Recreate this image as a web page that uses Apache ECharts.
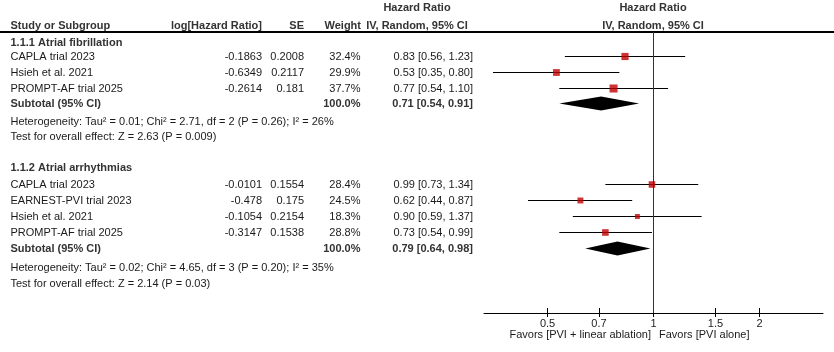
<!DOCTYPE html>
<html>
<head>
<meta charset="utf-8">
<style>
  html, body { margin: 0; padding: 0; background: #fff; }
  #chart { width: 834px; height: 352px; }
</style>
<script src="https://cdn.jsdelivr.net/npm/echarts@6/dist/echarts.min.js"></script>
</head>
<body>
<div id="chart"></div>
<script>
// 1.1.1 Atrial fibrillation
const afStudies = ['CAPLA trial 2023', 'Hsieh et al. 2021', 'PROMPT-AF trial 2025']
const afLogHR = [-0.1863, -0.6349, -0.2614]
const afSE = [0.2008, 0.2117, 0.181]
const afWeight = [32.4, 29.9, 37.7]
const afHR = [0.83, 0.53, 0.77]
const afLower = [0.56, 0.35, 0.54]
const afUpper = [1.23, 0.80, 1.10]
const afTotal = [0.71, 0.54, 0.91]
const afHet = 'Heterogeneity: Tau² = 0.01; Chi² = 2.71, df = 2 (P = 0.26); I² = 26%'
const afTest = 'Test for overall effect: Z = 2.63 (P = 0.009)'

// 1.1.2 Atrial arrhythmias
const arStudies = ['CAPLA trial 2023', 'EARNEST-PVI trial 2023', 'Hsieh et al. 2021', 'PROMPT-AF trial 2025']
const arLogHR = [-0.0101, -0.478, -0.1054, -0.3147]
const arSE = [0.1554, 0.175, 0.2154, 0.1538]
const arWeight = [28.4, 24.5, 18.3, 28.8]
const arHR = [0.99, 0.62, 0.90, 0.73]
const arLower = [0.73, 0.44, 0.59, 0.54]
const arUpper = [1.34, 0.87, 1.37, 0.99]
const arTotal = [0.79, 0.64, 0.98]
const arHet = 'Heterogeneity: Tau² = 0.02; Chi² = 4.65, df = 3 (P = 0.20); I² = 35%'
const arTest = 'Test for overall effect: Z = 2.14 (P = 0.03)'

const xTicks = [0.5, 0.7, 1, 1.5, 2]
const favorsLeft = 'Favors [PVI + linear ablation]'
const favorsRight = 'Favors [PVI alone]'

// layout
const FONT = "'Liberation Sans', Arial, sans-serif"
const W = 834, H = 352
const ROW0 = 40.5, ROW_H = 16          // pixel y of row 0, row pitch
const forestTop = 32, forestBottom = 313, forestLeft = 484, forestRight = 823
const col = { study: 10.5, logHR: 262, se: 304, weight: 360.5, hr: 473, hrHead: 417, forestHead: 653 }
const groupRows = [
  { title: 0.16, first: 1, subtotal: 3.94, het: 5.1, test: 6.03 },
  { title: 7.95, first: 9, subtotal: 13, het: 14.2, test: 15.2 }
]
const toRow = y => (y - ROW0) / ROW_H

const groups = [
  { title: '1.1.1 Atrial fibrillation', studies: afStudies, logHR: afLogHR, se: afSE, weight: afWeight, hr: afHR, lo: afLower, hi: afUpper, total: afTotal, het: afHet, test: afTest },
  { title: '1.1.2 Atrial arrhythmias', studies: arStudies, logHR: arLogHR, se: arSE, weight: arWeight, hr: arHR, lo: arLower, hi: arUpper, total: arTotal, het: arHet, test: arTest }
]

const fmtCI = (e, l, h) => e.toFixed(2) + ' [' + l.toFixed(2) + ', ' + h.toFixed(2) + ']'

const texts = []
const studyPts = []
const diamonds = []
const hdr1 = toRow(7.5), hdr2 = toRow(25.5)
texts.push({ x: col.hrHead, row: hdr1, text: 'Hazard Ratio', align: 'center', bold: true })
texts.push({ x: col.forestHead, row: hdr1, text: 'Hazard Ratio', align: 'center', bold: true })
texts.push({ x: col.study, row: hdr2, text: 'Study or Subgroup', align: 'left', bold: true })
texts.push({ x: col.logHR, row: hdr2, text: 'log[Hazard Ratio]', align: 'right', bold: true })
texts.push({ x: col.se, row: hdr2, text: 'SE', align: 'right', bold: true })
texts.push({ x: col.weight + 0.5, row: hdr2, text: 'Weight', align: 'right', bold: true })
texts.push({ x: col.hrHead, row: hdr2, text: 'IV, Random, 95% CI', align: 'center', bold: true })
texts.push({ x: col.forestHead, row: hdr2, text: 'IV, Random, 95% CI', align: 'center', bold: true })

groups.forEach((g, gi) => {
  const L = groupRows[gi]
  texts.push({ x: col.study, row: L.title, text: g.title, align: 'left', bold: true })
  g.studies.forEach((s, i) => {
    const r = L.first + i
    texts.push({ x: col.study, row: r, text: s, align: 'left' })
    texts.push({ x: col.logHR, row: r, text: String(g.logHR[i]), align: 'right' })
    texts.push({ x: col.se, row: r, text: String(g.se[i]), align: 'right' })
    texts.push({ x: col.weight, row: r, text: g.weight[i].toFixed(1) + '%', align: 'right' })
    texts.push({ x: col.hr, row: r, text: fmtCI(g.hr[i], g.lo[i], g.hi[i]), align: 'right' })
    studyPts.push([g.hr[i], r, g.lo[i], g.hi[i], g.weight[i]])
  })
  const wsum = g.weight.reduce((a, b) => a + b, 0)
  texts.push({ x: col.study, row: L.subtotal, text: 'Subtotal (95% CI)', align: 'left', bold: true })
  texts.push({ x: col.weight, row: L.subtotal, text: wsum.toFixed(1) + '%', align: 'right', bold: true })
  texts.push({ x: col.hr, row: L.subtotal, text: fmtCI(g.total[0], g.total[1], g.total[2]), align: 'right', bold: true })
  texts.push({ x: col.study, row: L.het, text: g.het, align: 'left' })
  texts.push({ x: col.study, row: L.test, text: g.test, align: 'left' })
  diamonds.push([g.total[0], L.subtotal, g.total[1], g.total[2]])
})
texts.push({ x: 651, row: toRow(334.5), text: favorsLeft, align: 'right' })
texts.push({ x: 659, row: toRow(334.5), text: favorsRight, align: 'left' })

const chart = echarts.init(document.getElementById('chart'))

const forestGrid = () => ({ left: forestLeft, right: W - forestRight, top: forestTop, bottom: H - forestBottom })

const option = {
  animation: false,
  grid: [
    { left: 0, right: 0, top: 0, bottom: 0 },
    forestGrid(),
    forestGrid()
  ],
  xAxis: [
    { type: 'value', gridIndex: 0, min: 0, max: W, show: false },
    {
      type: 'log', gridIndex: 1, logBase: 10, min: 0.33, max: 3.03, position: 'bottom',
      axisLine: { onZero: false, lineStyle: { color: '#000', width: 1 } },
      axisTick: { customValues: xTicks, length: 4, lineStyle: { color: '#000' } },
      axisLabel: {
        customValues: xTicks, margin: 5, color: '#222', fontSize: 11, fontFamily: FONT,
        formatter: v => String(+(+v).toFixed(2))
      },
      splitLine: { show: false }
    },
    {
      type: 'log', gridIndex: 2, logBase: 10, min: 0.33, max: 3.03, position: 'bottom',
      axisLine: { show: false, onZero: false },
      axisTick: { customValues: xTicks, inside: true, length: 5, lineStyle: { color: '#000' } },
      axisLabel: { show: false },
      splitLine: { show: false }
    }
  ],
  yAxis: [
    { type: 'value', gridIndex: 0, inverse: true, min: toRow(0), max: toRow(H), show: false },
    { type: 'value', gridIndex: 1, inverse: true, min: toRow(forestTop), max: toRow(forestBottom), show: false },
    { type: 'value', gridIndex: 2, inverse: true, min: toRow(forestTop), max: toRow(forestBottom), show: false }
  ],
  graphic: [
    { type: 'line', silent: true, shape: { x1: 0, y1: 32, x2: W, y2: 32 }, style: { stroke: '#000', lineWidth: 2 } }
  ],
  series: [
    {
      type: 'custom', xAxisIndex: 0, yAxisIndex: 0, silent: true,
      data: texts.map(t => [t.x, t.row]),
      renderItem: (params, api) => {
        const t = texts[params.dataIndex]
        const p = api.coord([t.x, t.row])
        return {
          type: 'text', x: p[0], y: p[1],
          style: {
            text: t.text, align: t.align, verticalAlign: 'middle',
            font: (t.bold ? 'bold ' : '') + '11px ' + FONT,
            fill: t.bold ? '#333' : '#1a1a1a'
          }
        }
      }
    },
    {
      type: 'custom', xAxisIndex: 1, yAxisIndex: 1, silent: true,
      data: studyPts,
      encode: { x: [0, 2, 3], y: 1 },
      renderItem: (params, api) => {
        const a = api.coord([api.value(2), api.value(1)])
        const b = api.coord([api.value(3), api.value(1)])
        return { type: 'line', shape: { x1: a[0], y1: a[1], x2: b[0], y2: b[1] }, style: { stroke: '#000', lineWidth: 1 } }
      }
    },
    {
      type: 'scatter', xAxisIndex: 1, yAxisIndex: 1, silent: true,
      symbol: 'rect',
      symbolSize: d => 2 + 0.16 * d[4],
      itemStyle: { color: '#c00000' },
      data: studyPts,
      markLine: {
        silent: true, symbol: ['none', 'none'], label: { show: false },
        lineStyle: { color: '#333', width: 1, type: 'solid' },
        data: [{ xAxis: 1 }]
      }
    },
    {
      type: 'custom', xAxisIndex: 1, yAxisIndex: 1, silent: true,
      data: diamonds,
      encode: { x: [0, 2, 3], y: 1 },
      renderItem: (params, api) => {
        const c = api.coord([api.value(0), api.value(1)])
        const l = api.coord([api.value(2), api.value(1)])
        const r = api.coord([api.value(3), api.value(1)])
        return {
          type: 'polygon',
          shape: { points: [[l[0], c[1]], [c[0], c[1] - 7], [r[0], c[1]], [c[0], c[1] + 7]] },
          style: { fill: '#000' }
        }
      }
    }
  ]
}

chart.setOption(option)
window.addEventListener('resize', () => chart.resize())
</script>
</body>
</html>
